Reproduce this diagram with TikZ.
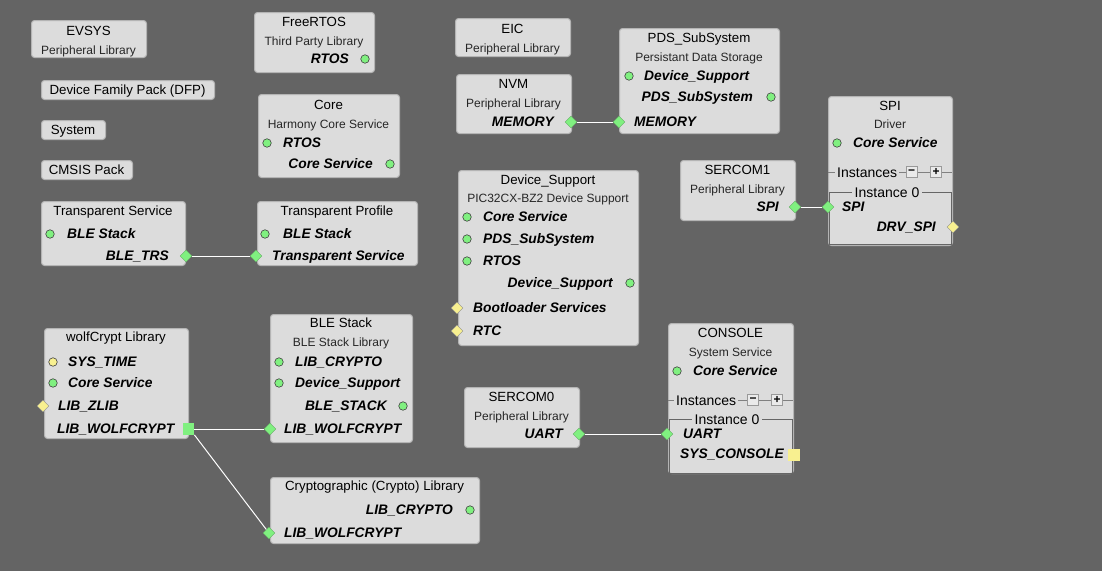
\documentclass[tikz,border=0pt]{standalone}
\usepackage{fontspec}
\setmainfont{Liberation Sans}
\usetikzlibrary{shapes.geometric}
\definecolor{canvas}{HTML}{646464}
\definecolor{boxfill}{HTML}{DCDCDC}
\definecolor{boxedge}{HTML}{B4B4B4}
\definecolor{pingreen}{HTML}{80F080}
\definecolor{pinyellow}{HTML}{F8F090}
\begin{document}
\begin{tikzpicture}[x=1pt,y=-1pt,
blk/.style={
  draw=boxedge,
  fill=boxfill,
  line width=1pt,
  rounded corners=3pt,
  anchor=north west,
  inner sep=0pt
  },
ttl/.style={font=\fontsize{13.3}{15}\selectfont, inner sep=0pt, text height=9.5pt, text depth=0pt},
subttl/.style={font=\fontsize{12}{14}\selectfont, text=black!85, inner sep=0pt, text height=8.6pt, text depth=0pt},
prt/.style={font=\fontsize{13.8}{16}\selectfont\bfseries\itshape, inner sep=0pt, text height=9.9pt, text depth=0pt},
gpin/.style={circle, draw=black!75, line width=0.6pt, fill=pingreen, minimum size=8.5pt, inner sep=0pt},
ypin/.style={gpin, fill=pinyellow},
gdia/.style={diamond, draw=green!45!black!60, line width=0.4pt, fill=pingreen, minimum width=12pt, minimum height=12pt, inner sep=0pt},
ydia/.style={gdia, draw=black!45, fill=pinyellow},
gsq/.style={rectangle, fill=pingreen, minimum size=11.5pt, inner sep=0pt},
ysq/.style={gsq, fill=pinyellow},
sepline/.style={draw=black!60, line width=0.8pt},
instlbl/.style={font=\fontsize{14}{16}\selectfont, fill=boxfill, inner sep=0pt, inner xsep=2pt, text height=10pt, text depth=0pt},
pmbtn/.style={draw=black!40, fill=boxfill!60!white, minimum size=11pt, inner sep=0pt, font=\fontsize{12}{12}\selectfont\bfseries},
wire/.style={draw=white, line width=1pt}
]
\fill[canvas] (0,0) rectangle (1102,571);
\useasboundingbox (0,0) rectangle (1102,571);

% component frames
\foreach \nm/\xa/\ya/\xb/\yb in {
  evsys/31/20/146/57, dfp/41/80/214/99, system/41/120/105/139, cmsis/41/160/132/179,
  freertos/254/12/374/72, core/258/94/399/177, eic/455/18/570/56, nvm/456/74/571/133,
  pds/619/28/779/133, spi/828/96/952/245, sercom1/680/160/795/220,
  trsvc/41/201/185/265, trprof/257/201/417/265, devsup/458/170/638/345,
  wolf/44/328/188/438, blestk/270/314/412/442, crypto/270/477/479/543,
  sercom0/464/387/579/447, console/668/323/793/473}
  \node[blk, minimum width=\xb-\xa, minimum height=\yb-\ya] (\nm) at (\xa,\ya) {};

% titles
\foreach \nm/\x/\y/\txt in {
  evsys/88.5/31/EVSYS, dfp/127.5/90/Device Family Pack (DFP), system/73/130/System,
  cmsis/86.5/170/CMSIS Pack, freertos/314/22/FreeRTOS, core/328.5/105/Core,
  eic/512.5/29/EIC, nvm/513.5/84/NVM, pds/699/38/PDS\_SubSystem, spi/890/106/SPI,
  sercom1/737.5/170/SERCOM1, trsvc/113/211/Transparent Service,
  trprof/337/211/Transparent Profile, devsup/548/180/Device\_Support,
  wolf/116/337/wolfCrypt Library, blestk/341/323/BLE Stack,
  crypto/374.5/486/Cryptographic (Crypto) Library, sercom0/521.5/397/SERCOM0,
  console/730.5/333/CONSOLE}
  \node[ttl] (\nm-t) at (\x,\y) {\txt};

% subtitles
\foreach \nm/\x/\y/\txt in {
  evsys/88.5/50/Peripheral Library, freertos/314/41/Third Party Library,
  core/328.5/124/Harmony Core Service, eic/512.5/48/Peripheral Library,
  nvm/513.5/103/Peripheral Library, pds/699/57/Persistant Data Storage,
  spi/890/124/Driver, sercom1/737.5/189/Peripheral Library,
  devsup/548/198/PIC32CX-BZ2 Device Support, blestk/341/342/BLE Stack Library,
  sercom0/521.5/416/Peripheral Library, console/730.5/352/System Service}
  \node[subttl] (\nm-s) at (\x,\y) {\txt};

% instance rows
\draw[sepline, black!50] (828,172) -- (952,172);
\draw[sepline] (829,192) rectangle (951,244);
\node[instlbl, anchor=west] (spi-inst) at (835,172) {Instances};
\node[pmbtn] (spi-minus) at (911.5,172) {−};
\node[pmbtn] (spi-plus) at (936,172) {+};
\node[instlbl, inner xsep=3pt] (spi-inst0) at (887,192) {Instance 0};
\draw[sepline, black!50] (668,400) -- (793,400);
\draw[sepline] (669,419) rectangle (792,473);
\node[instlbl, anchor=west] (console-inst) at (674,400) {Instances};
\node[pmbtn] (console-minus) at (753,400) {−};
\node[pmbtn] (console-plus) at (777,400) {+};
\node[instlbl, inner xsep=3pt] (console-inst0) at (727,419) {Instance 0};

% port labels
\foreach \nm/\x/\y/\txt in {
  core-rtos/283/143/RTOS, pds-ds/644/76/Device\_Support, pds-mem/634/122/MEMORY,
  spi-cs/853/143/Core Service, spi-spi/842/207/SPI, trsvc-ble/67/234/BLE Stack,
  trprof-ble/283/234/BLE Stack, trprof-ts/272/256/Transparent Service,
  devsup-cs/483/217/Core Service, devsup-pds/483/239/PDS\_SubSystem,
  devsup-rtos/483/261/RTOS, devsup-boot/473/308/Bootloader Services,
  devsup-rtc/473/331/RTC, wolf-time/68/362/SYS\_TIME, wolf-cs/68/383/Core Service,
  wolf-zlib/58/406/LIB\_ZLIB, wolf-wc/57/429/LIB\_WOLFCRYPT,
  blestk-cr/295/362/LIB\_CRYPTO, blestk-ds/295/383/Device\_Support,
  blestk-wc/284/429/LIB\_WOLFCRYPT, crypto-wc/284/533/LIB\_WOLFCRYPT,
  console-cs/693/371/Core Service, console-uart/683/434/UART,
  console-sys/680/454/SYS\_CONSOLE}
  \node[prt, anchor=west] (l-\nm) at (\x,\y) {\txt};
\foreach \nm/\x/\y/\txt in {
  freertos-rtos/349/59/RTOS, core-cs/373/164/Core Service, nvm-mem/554/122/MEMORY,
  pds-pds/753/97/PDS\_SubSystem, spi-drv/936/227/DRV\_SPI, sercom1-spi/779/207/SPI,
  trsvc-trs/169/256/BLE\_TRS, devsup-ds/613/283/Device\_Support,
  blestk-bs/387/406/BLE\_STACK, crypto-cr/453/510/LIB\_CRYPTO,
  sercom0-uart/563/434/UART}
  \node[prt, anchor=east] (l-\nm) at (\x,\y) {\txt};

% pins
\foreach \nm/\x/\y in {
  freertos-rtos/365/59, core-rtos/267/143, core-cs/390/164, pds-ds/629/76,
  pds-pds/771/97, spi-cs/837/143, trsvc-ble/50/234, trprof-ble/265/234,
  devsup-cs/467/217, devsup-pds/467/239, devsup-rtos/467/261, devsup-ds/630/283,
  wolf-cs/53/383, blestk-cr/279/362, blestk-ds/279/383, blestk-bs/403/406,
  crypto-cr/470/510, console-cs/677/371}
  \node[gpin] (\nm) at (\x,\y) {};
\node[ypin] (wolf-time) at (53,362) {};
\foreach \nm/\x/\y in {
  nvm-mem/571/122, pds-mem/619/122, sercom1-spi/795/207, spi-spi/828/207,
  trsvc-trs/186/256, trprof-ts/256/256, blestk-wc/270/429, crypto-wc/269/533,
  sercom0-uart/579/434, console-uart/667/434}
  \node[gdia] (\nm) at (\x,\y) {};
\foreach \nm/\x/\y in {
  spi-drv/953/227, devsup-boot/457/308, devsup-rtc/457/331, wolf-zlib/43/406}
  \node[ydia] (\nm) at (\x,\y) {};
\node[gsq] (wolf-wc) at (188.5,429) {};
\node[ysq] (console-sys) at (794,455) {};

% connections
\draw[wire] (nvm-mem) -- (pds-mem);
\draw[wire] (sercom1-spi) -- (spi-spi);
\draw[wire] (trsvc-trs) -- (trprof-ts);
\draw[wire] (wolf-wc) -- (blestk-wc);
\draw[wire] (wolf-wc.south east) -- (crypto-wc);
\draw[wire] (sercom0-uart) -- (console-uart);
\end{tikzpicture}
\end{document}
